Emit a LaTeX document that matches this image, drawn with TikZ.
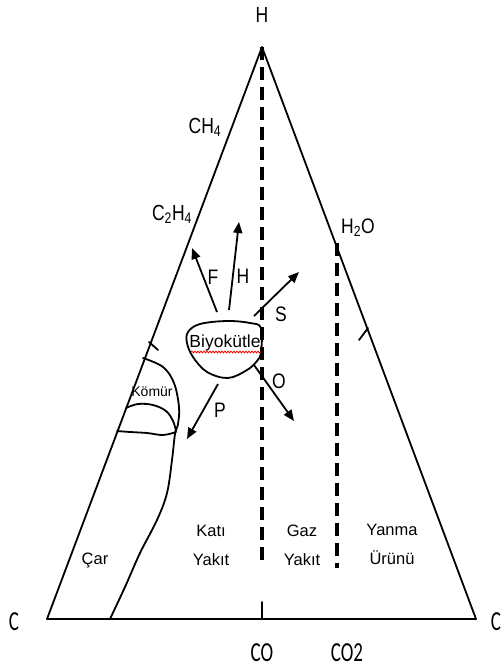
\documentclass[tikz,border=0pt]{standalone}
\usepackage{fontspec}
\usepackage{graphicx}
\setmainfont{Liberation Sans}
\newfontfamily\carl{Carlito}
\usetikzlibrary{arrows.meta,decorations.pathmorphing}
\newcommand{\mystretch}[2]{\scalebox{1}[#1]{#2}}
\begin{document}
\begin{tikzpicture}[x=1pt,y=-1pt,
  edge/.style={line width=1.8pt, line cap=round, line join=round},
  dashline/.style={line width=3.2pt, dash pattern=on 13pt off 7pt},
  arr/.style={line width=1.8pt, -{Triangle[length=11pt,width=9pt]}},
  lbl/.style={inner sep=0pt, font=\fontsize{16.5}{18}\selectfont},
  small/.style={inner sep=0pt, font=\fontsize{17.5}{19}\selectfont},
  corner/.style={inner sep=0pt, font=\carl\fontsize{19}{20}\selectfont},
  region/.style={inner sep=0pt, align=center, font=\fontsize{16.5}{29}\selectfont}]
\useasboundingbox (0,0) rectangle (502,668);

% corners of the triangle
\coordinate (apex) at (262,47);
\coordinate (cl) at (47,619);
\coordinate (cr) at (476,619);
\draw[edge] (cl) -- (apex) -- (cr) -- cycle;

% dashed lines
\coordinate (cobot) at (262,566);
\coordinate (htwootop) at (337,243);
\coordinate (htwoobot) at (337,568);
\draw[dashline] (apex) -- (cobot);
\draw[dashline] (htwootop) -- (htwoobot);

% ticks
\coordinate (tickbA) at (262,602);
\coordinate (tickbB) at (262,619);
\draw[edge] (tickbA) -- (tickbB);
\coordinate (ticklA) at (149,342);
\coordinate (ticklB) at (158,350);
\draw[edge] (ticklA) -- (ticklB);
\coordinate (tickrA) at (368,328);
\coordinate (tickrB) at (359,340);
\draw[edge] (tickrA) -- (tickrB);

% Komur / Car boundaries
\draw[edge] plot[smooth, tension=0.6] coordinates {(143,358) (163,367) (174,383) (179,407) (178,424) (175,434) (172,460) (167,493) (157,520) (140,553) (125,587) (110,619)};
\draw[edge] plot[smooth, tension=0.6] coordinates {(126,408) (138,404) (153,405) (166,411) (173,421) (176,431)};
\draw[edge] plot[smooth, tension=0.6] coordinates {(117,431) (130,432) (147,433) (163,435) (176,432)};

% biomass blob
\draw[edge] plot[smooth cycle, tension=0.6] coordinates {(188,332) (200,324) (227,321) (250,323) (261,328) (261,352) (257,361) (247,370) (228,378) (207,372) (193,357) (187,343)};
\node[small] (bio) at (225,343) {Biyokütle};
\coordinate (wavyA) at (191,352);
\coordinate (wavyB) at (261,352);
\draw[red, line width=0.8pt, decorate, decoration={snake, segment length=3pt, amplitude=0.9pt}] (wavyA) -- (wavyB);

% arrows
\coordinate (fA) at (217,312); \coordinate (fB) at (192,248);
\coordinate (hA) at (229,310); \coordinate (hB) at (239,222);
\coordinate (sA) at (254,316); \coordinate (sB) at (299,272);
\coordinate (oA) at (254,365); \coordinate (oB) at (294,421);
\coordinate (pA) at (218,384); \coordinate (pB) at (187,439);
\draw[arr] (fA) -- (fB);
\draw[arr] (hA) -- (hB);
\draw[arr] (sA) -- (sB);
\draw[arr] (oA) -- (oB);
\draw[arr] (pA) -- (pB);

\node[small] (lf) at (213,277) {\mystretch{1.2}{F}};
\node[small] (lh) at (243,276) {\mystretch{1.2}{H}};
\node[small] (ls) at (281,314) {\mystretch{1.2}{S}};
\node[small] (lo) at (279,381) {\mystretch{1.2}{O}};
\node[small] (lp) at (220,410) {\mystretch{1.2}{P}};

% labels
\node[small] (htop) at (262,15) {\mystretch{1.25}{H}};
\node[small] (ch4) at (205,127) {\mystretch{1.25}{CH\textsubscript{4}}};
\node[small] (c2h4) at (172,214) {\mystretch{1.25}{C\textsubscript{2}H\textsubscript{4}}};
\node[small] (h2o) at (358,228) {\mystretch{1.2}{H\textsubscript{2}O}};
\node[corner] (cleft) at (14,622) {\mystretch{1.45}{C}};
\node[corner] (cright) at (496,622) {\mystretch{1.45}{C}};
\node[corner] (co) at (262,653) {\mystretch{1.45}{CO}};
\node[corner] (co2) at (347,653) {\mystretch{1.45}{CO2}};

\node[inner sep=0pt, font=\fontsize{14}{15}\selectfont] (komur) at (152,392) {Kömür};
\node[lbl] (car) at (95,560) {Çar};
\node[region] (kati) at (211,545) {Katı\\Yakıt};
\node[region] (gaz) at (302,545) {Gaz\\Yakıt};
\node[region] (yanma) at (392,544) {Yanma\\Ürünü};
\end{tikzpicture}
\end{document}
